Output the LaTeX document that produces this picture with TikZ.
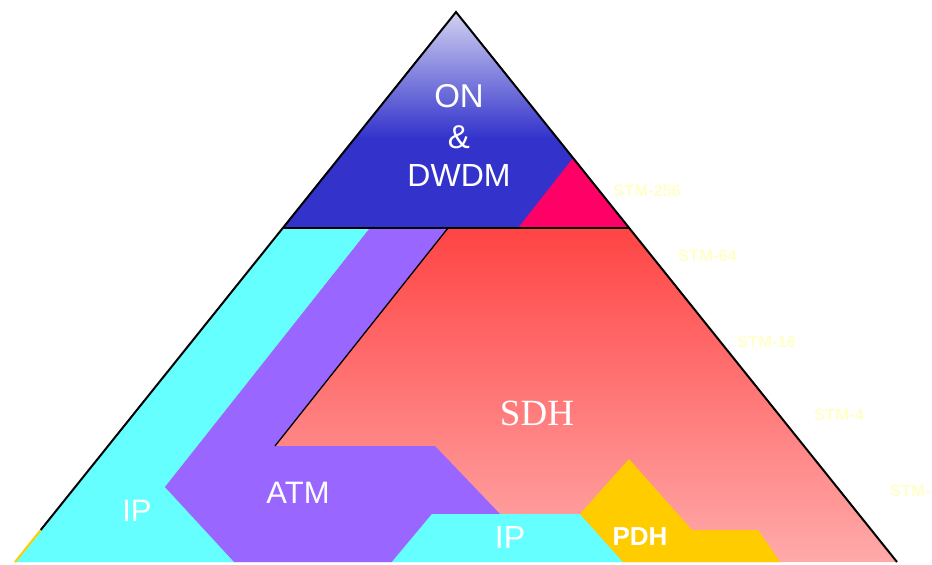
\documentclass[tikz,border=0pt]{standalone}
\usepackage{fontspec}
\setmainfont{Liberation Sans}
\newfontfamily\serifx{Liberation Serif}
\definecolor{cyanx}{HTML}{66FFFF}
\definecolor{purplex}{HTML}{9966FF}
\definecolor{bluex}{HTML}{3333CC}
\definecolor{lavx}{HTML}{D4D4F2}
\definecolor{pinkx}{HTML}{FF0066}
\definecolor{redtop}{HTML}{FF4444}
\definecolor{redmid}{HTML}{FF9494}
\definecolor{redbot}{HTML}{FFAAAA}
\definecolor{pdhx}{HTML}{FFCC00}
\definecolor{stmx}{HTML}{FFFFCC}
\begin{document}
\begin{tikzpicture}[x=1pt,y=-1pt,
  lbl/.style={text=white,inner sep=0pt,anchor=center},
  stm/.style={text=stmx,inner sep=0pt,anchor=west,font=\fontsize{16.5}{18}\selectfont\bfseries}]
\useasboundingbox (0,0) rectangle (932,565);
\coordinate (A) at (456,12);
\coordinate (L) at (15,562);
\coordinate (R) at (897,562);
\coordinate (ML) at (282.8,228);
\coordinate (MR) at (629.2,228);
\begin{scope}
  \clip (A) -- (L) -- (R) -- cycle;
  % top region
  \fill[bluex] (0,0) rectangle (932,228);
  \shade[top color=lavx,bottom color=bluex] (300,10) rectangle (620,138);
  \fill[pinkx] (573.1,158) -- (MR) -- (518,228) -- cycle;
  % SDH
  \shade[top color=redtop,middle color=redmid,bottom color=redbot] (0,228) rectangle (932,563);
  % cyan left
  \fill[cyanx] (ML) -- (370,228) -- (165,487) -- (235,562) -- (0,563) -- (0,228) -- cycle;
  % purple
  \fill[purplex] (370,228) -- (448,228) -- (275,446) -- (435,446) -- (500,514) -- (432,514) -- (392,563) -- (235,563) -- (165,487) -- cycle;
  % cyan bottom
  \fill[cyanx] (432,514) -- (580,514) -- (624,563) -- (391,563) -- cycle;
  % PDH
  \fill[pdhx] (580,514) -- (629,459) -- (692,530) -- (758,530) -- (781,563) -- (624,563) -- cycle;
\end{scope}
\draw[line width=1.3pt] (448,228) -- (275,446);
\draw[line width=1.5pt] (ML) -- (MR);
\draw[pdhx,line width=2pt] (40.7,530) -- (L);
\draw[line width=2pt,line join=miter] (40.7,530) -- (A) -- (R);
\node[lbl,font=\fontsize{33}{36}\selectfont] (on) at (459,96) {ON};
\node[lbl,font=\fontsize{33}{36}\selectfont] (amp) at (459,137) {\&};
\node[lbl,font=\fontsize{32}{36}\selectfont] (dwdm) at (459,175) {DWDM};
\node[lbl,font=\serifx\fontsize{37}{40}\selectfont] (sdh) at (537,413) {SDH};
\node[lbl,font=\fontsize{31}{34}\selectfont] (atm) at (298,493) {ATM};
\node[lbl,font=\fontsize{31}{34}\selectfont] (ip1) at (137,511) {IP};
\node[lbl,font=\fontsize{32}{34}\selectfont] (ip2) at (510,537) {IP};
\node[lbl,font=\fontsize{26}{30}\selectfont\bfseries] (pdh) at (640,537) {PDH};
\node[stm] (s256) at (613,191) {STM-256};
\node[stm] (s64) at (678,256) {STM-64};
\node[stm] (s16) at (737,342) {STM-16};
\node[stm] (s4) at (814,415) {STM-4};
\node[stm] (s1) at (890,491) {STM-};
\end{tikzpicture}
\end{document}
